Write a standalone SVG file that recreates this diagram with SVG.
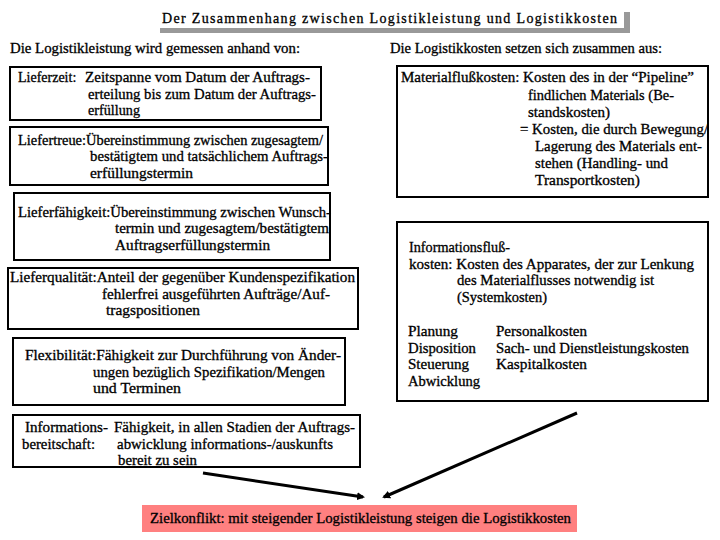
<svg xmlns="http://www.w3.org/2000/svg" width="720" height="540" viewBox="0 0 720 540">
<style>
.t{font-size:14px;fill:#000;stroke:#000;stroke-width:0.3}
.b{fill:#fff;stroke:#000;stroke-width:2}
.c{fill:none;stroke:#000;stroke-width:3}
</style>
<defs>
<marker id="ah" markerWidth="8" markerHeight="8" refX="6" refY="4" orient="auto" markerUnits="userSpaceOnUse">
<path d="M0,0 L8,4 L0,8 Z" fill="#000"/>
</marker>
</defs>
<rect width="720" height="540" fill="#fff"/>
<g font-family="Liberation Serif, DejaVu Serif, serif">
<g id="title">
<rect x="160" y="12" width="470" height="21" fill="#999"/>
<rect x="155" y="7" width="469" height="21" fill="#fff"/>
<text class="t" x="162" y="23" textLength="455" lengthAdjust="spacing">Der Zusammenhang zwischen Logistikleistung und Logistikkosten</text>
</g>
<g id="headers">
<text class="t" x="10" y="53" textLength="290" lengthAdjust="spacingAndGlyphs">Die Logistikleistung wird gemessen anhand von:</text>
<text class="t" x="390" y="53" textLength="272" lengthAdjust="spacingAndGlyphs">Die Logistikkosten setzen sich zusammen aus:</text>
</g>
<g id="lieferzeit">
<rect class="b" x="10" y="67" width="311" height="53"/>
<text class="t" x="18" y="82">Lieferzeit:</text>
<text class="t" x="85" y="82" textLength="225" lengthAdjust="spacingAndGlyphs">Zeitspanne vom Datum der Auftrags-</text>
<text class="t" x="88" y="99" textLength="228" lengthAdjust="spacingAndGlyphs">erteilung bis zum Datum der Auftrags-</text>
<text class="t" x="88" y="115" textLength="52" lengthAdjust="spacingAndGlyphs">erfüllung</text>
</g>
<g id="liefertreue">
<rect class="b" x="10" y="127" width="318" height="58"/>
<text class="t" x="18" y="145" textLength="305" lengthAdjust="spacingAndGlyphs">Liefertreue:Übereinstimmung zwischen zugesagtem/</text>
<text class="t" x="90" y="161" textLength="238" lengthAdjust="spacingAndGlyphs">bestätigtem  und tatsächlichem Auftrags-</text>
<text class="t" x="90" y="178" textLength="103" lengthAdjust="spacingAndGlyphs">erfüllungstermin</text>
</g>
<g id="lieferfaehigkeit">
<rect class="b" x="14" y="193" width="316" height="67"/>
<text class="t" x="18" y="217" textLength="313" lengthAdjust="spacingAndGlyphs">Lieferfähigkeit:Übereinstimmung zwischen Wunsch-</text>
<text class="t" x="115" y="233" textLength="214" lengthAdjust="spacingAndGlyphs">termin und zugesagtem/bestätigtem</text>
<text class="t" x="115" y="250" textLength="155" lengthAdjust="spacingAndGlyphs">Auftragserfüllungstermin</text>
</g>
<g id="lieferqualitaet">
<rect class="b" x="8" y="268" width="350" height="61"/>
<text class="t" x="10" y="282" textLength="345" lengthAdjust="spacingAndGlyphs">Lieferqualität:Anteil der gegenüber Kundenspezifikation</text>
<text class="t" x="102" y="299" textLength="228" lengthAdjust="spacingAndGlyphs">fehlerfrei ausgeführten Aufträge/Auf-</text>
<text class="t" x="106" y="315" textLength="94" lengthAdjust="spacingAndGlyphs">tragspositionen</text>
</g>
<g id="flexibilitaet">
<rect class="b" x="13" y="338" width="332" height="67"/>
<text class="t" x="25" y="360" textLength="316" lengthAdjust="spacingAndGlyphs">Flexibilität:Fähigkeit zur Durchführung  von Änder-</text>
<text class="t" x="93" y="377" textLength="232" lengthAdjust="spacingAndGlyphs">ungen bezüglich Spezifikation/Mengen</text>
<text class="t" x="93" y="393" textLength="88" lengthAdjust="spacingAndGlyphs">und Terminen</text>
</g>
<g id="informationsbereitschaft">
<rect class="b" x="13" y="415" width="347" height="52"/>
<text class="t" x="25" y="432" textLength="83" lengthAdjust="spacingAndGlyphs">Informations-</text>
<text class="t" x="114" y="432" textLength="241" lengthAdjust="spacingAndGlyphs">Fähigkeit, in allen Stadien der Auftrags-</text>
<text class="t" x="22" y="449" textLength="73" lengthAdjust="spacingAndGlyphs">bereitschaft:</text>
<text class="t" x="117" y="449" textLength="216" lengthAdjust="spacingAndGlyphs">abwicklung informations-/auskunfts</text>
<text class="t" x="118" y="465" textLength="79" lengthAdjust="spacingAndGlyphs">bereit zu sein</text>
</g>
<g id="materialflusskosten">
<rect class="b" x="397" y="66" width="311" height="131"/>
<text class="t" x="401" y="82" textLength="293" lengthAdjust="spacingAndGlyphs">Materialflußkosten: Kosten des in der “Pipeline”</text>
<text class="t" x="528" y="100" textLength="146" lengthAdjust="spacingAndGlyphs">findlichen Materials (Be-</text>
<text class="t" x="528" y="117" textLength="82" lengthAdjust="spacingAndGlyphs">standskosten)</text>
<text class="t" x="520" y="134" textLength="188" lengthAdjust="spacingAndGlyphs">= Kosten, die durch Bewegung/</text>
<text class="t" x="535" y="151" textLength="167" lengthAdjust="spacingAndGlyphs">Lagerung des Materials ent-</text>
<text class="t" x="535" y="168" textLength="133" lengthAdjust="spacingAndGlyphs">stehen (Handling- und</text>
<text class="t" x="535" y="185" textLength="105" lengthAdjust="spacingAndGlyphs">Transportkosten)</text>
</g>
<g id="informationsflusskosten">
<rect class="b" x="397" y="222" width="311" height="179"/>
<text class="t" x="409" y="252" textLength="101" lengthAdjust="spacingAndGlyphs">Informationsfluß-</text>
<text class="t" x="409" y="269" textLength="285" lengthAdjust="spacingAndGlyphs">kosten: Kosten des Apparates, der zur Lenkung</text>
<text class="t" x="457" y="285" textLength="197" lengthAdjust="spacingAndGlyphs">des Materialflusses notwendig ist</text>
<text class="t" x="457" y="302" textLength="90" lengthAdjust="spacingAndGlyphs">(Systemkosten)</text>
<text class="t" x="408" y="336" textLength="50" lengthAdjust="spacingAndGlyphs">Planung</text>
<text class="t" x="496" y="336" textLength="91" lengthAdjust="spacingAndGlyphs">Personalkosten</text>
<text class="t" x="408" y="353" textLength="68" lengthAdjust="spacingAndGlyphs">Disposition</text>
<text class="t" x="496" y="353" textLength="193" lengthAdjust="spacingAndGlyphs">Sach- und Dienstleistungskosten</text>
<text class="t" x="408" y="369" textLength="61" lengthAdjust="spacingAndGlyphs">Steuerung</text>
<text class="t" x="496" y="369" textLength="91" lengthAdjust="spacingAndGlyphs">Kaspitalkosten</text>
<text class="t" x="408" y="386" textLength="72" lengthAdjust="spacingAndGlyphs">Abwicklung</text>
</g>
<g id="zielkonflikt">
<rect x="142" y="505" width="435" height="27" fill="#ff8080"/>
<text class="t" x="150" y="523" textLength="421" lengthAdjust="spacingAndGlyphs">Zielkonflikt: mit steigender Logistikleistung steigen die Logistikkosten</text>
</g>
</g>
<g id="connectors">
<line class="c" x1="203" y1="473" x2="363" y2="497" marker-end="url(#ah)"/>
<line class="c" x1="577" y1="413" x2="384" y2="497" marker-end="url(#ah)"/>
</g>
</svg>
